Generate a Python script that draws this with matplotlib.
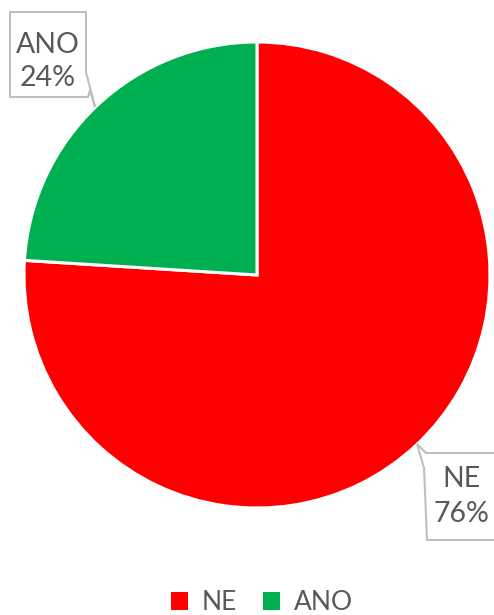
import matplotlib.pyplot as plt
from matplotlib.patches import Polygon

labels = ['NE', 'ANO']
shares = [76, 24]
colors = ['#FF0000', '#00B050']

W, H = 494, 615
fig = plt.figure(figsize=(W / 100, H / 100), dpi=100)
ax = fig.add_axes([0, 0, 1, 1])

# pixel-like coordinates, y up
cx, cy, r = 257, H - 275, 233
wedges, _ = ax.pie(shares, colors=colors, startangle=90, counterclock=False,
                   center=(cx, cy), radius=r,
                   wedgeprops=dict(edgecolor='white', linewidth=2.2))
ax.set_xlim(0, W)
ax.set_ylim(0, H)
ax.set_aspect('equal')
ax.axis('off')

box_col = '#BFBFBF'
txt_col = '#595959'


def py(y):
    return H - y


# callout for ANO (upper left)
ano_pts = [(10, 12), (86, 12), (86, 72), (95, 107), (90, 90), (88, 97), (10, 97)]
ax.add_patch(Polygon([(x, py(y)) for x, y in ano_pts], closed=True,
                     facecolor='white', edgecolor=box_col, linewidth=1.5, zorder=5))
ax.text(48, py(45), labels[1], ha='center', va='center', fontsize=20.5,
        color=txt_col, family='Lato', zorder=6)
ax.text(48, py(78), f'{shares[1]}%', ha='center', va='center', fontsize=20.5,
        color=txt_col, family='Lato', zorder=6)

# callout for NE (lower right)
ne_pts = [(426, 453), (500, 453), (500, 540), (427, 540), (424, 468), (417, 444)]
ax.add_patch(Polygon([(x, py(y)) for x, y in ne_pts], closed=True,
                     facecolor='white', edgecolor=box_col, linewidth=1.5, zorder=5,
                     clip_on=False))
ax.text(461, py(479), labels[0], ha='center', va='center', fontsize=20.5,
        color=txt_col, family='Lato', zorder=6)
ax.text(461, py(514), f'{shares[0]}%', ha='center', va='center', fontsize=20.5,
        color=txt_col, family='Lato', zorder=6)

leg = fig.legend(wedges, labels, loc='center', bbox_to_anchor=(262 / W, 1 - 603 / H),
                 ncol=2, frameon=False, handlelength=0.65, handleheight=0.65,
                 handletextpad=0.5, columnspacing=1.0, prop={'family': 'Lato', 'size': 19})
for t in leg.get_texts():
    t.set_color(txt_col)
for p in leg.get_patches():
    p.set_edgecolor('none')

fig.savefig('out.png', dpi=100)
